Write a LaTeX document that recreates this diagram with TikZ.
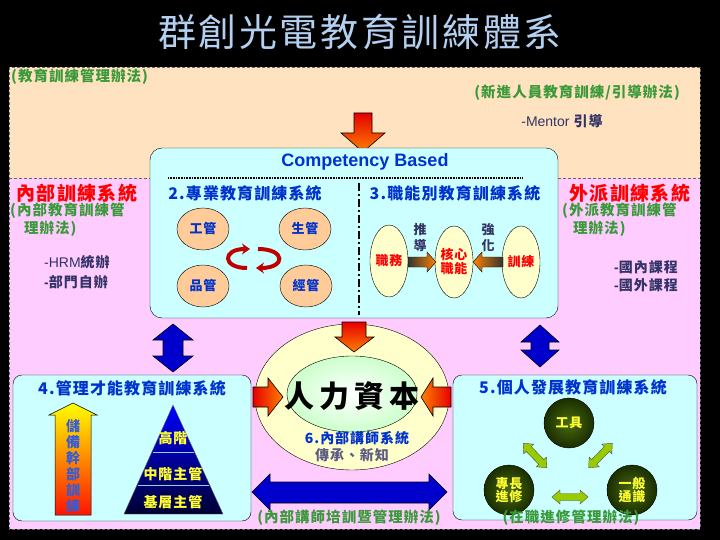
\documentclass[tikz,border=0pt]{standalone}
\usepackage{fontspec}
\setmainfont{Noto Sans CJK TC}[LetterSpace=7]
\newfontfamily\arial{Liberation Sans}
\usetikzlibrary{arrows.meta,shapes.geometric}
\definecolor{peach}{HTML}{FFE2C0}
\definecolor{pinkbg}{HTML}{FFCCFF}
\definecolor{cyanbg}{HTML}{CCFFFF}
\definecolor{grn}{HTML}{3A9A3A}
\definecolor{hblue}{HTML}{0033CC}
\definecolor{navy}{HTML}{333366}
\definecolor{titleblue}{HTML}{B4D0F0}
\definecolor{ballfill}{HTML}{FFCC99}
\definecolor{lyellow}{HTML}{FFFFCC}
\definecolor{lgreen}{HTML}{CCFFCC}
\definecolor{arrblue}{HTML}{0000CC}
\definecolor{ygreen}{HTML}{99CC00}
\definecolor{dkgreen}{HTML}{1A2E00}
\definecolor{midgreen}{HTML}{4A6A10}
\definecolor{yel}{HTML}{FFFF33}
\newcommand\fsz[1]{\fontsize{#1}{#1}\selectfont}
\tikzset{
  txt/.style={inner sep=0pt, anchor=center},
  ball/.style={ellipse, draw=black, fill=ballfill, minimum width=52pt, minimum height=42pt, inner sep=0pt, font=\fsz{13}\bfseries, text=hblue},
  egg/.style={ellipse, draw=black, fill=lyellow, minimum width=36pt, minimum height=72pt, inner sep=0pt, font=\fsz{13}\bfseries, text=red, align=center},
  gball/.style={circle, draw=black, inner color=midgreen, outer color=dkgreen, minimum size=50pt, inner sep=0pt, font=\fsz{13}\bfseries, text=yel, align=center},
  panel/.style={draw=black, fill=cyanbg, rounded corners=9pt},
  blockarr/.style={draw=black, line width=0.6pt},
  ygarr/.style={draw=black!70, fill=ygreen, line width=0.4pt},
  cyc/.style={-{Stealth[length=8pt,width=11pt]}, line width=4pt, red!75!black},
}
\begin{document}
\begin{tikzpicture}[x=1pt,y=-1pt]
\useasboundingbox (0,0) rectangle (720,540);
\fill[black] (0,0) rectangle (720,540);
% title
\node[txt, font=\fsz{38}, text=titleblue] (title) at (360,32) {群創光電教育訓練體系};
% backgrounds
\fill[peach] (9,67) rectangle (700,178);
\fill[pinkbg] (9,178) rectangle (700,529);
\draw[densely dashed, black!60, line width=0.5pt] (9,67) rectangle (700,529);
\draw[densely dashed, black!60, line width=0.5pt] (9,178) -- (150,178) (558,178) -- (700,178);
% top texts
\node[txt, anchor=west, font=\fsz{14.5}\bfseries, text=grn] (t1) at (11,77) {(教育訓練管理辦法)};
\node[txt, anchor=east, font=\fsz{14.5}\bfseries, text=grn] (t2) at (680,93) {(新進人員教育訓練/引導辦法)};
\node[txt, font=\fsz{14}, text=navy] (mentor) at (562,121) {{\arial -Mentor} \bfseries 引導};
% top orange arrow
\shade[top color=red!90!black, bottom color=orange, blockarr]
  (354,113) -- (372,113) -- (372,133) -- (385,133) -- (363,152) -- (341,133) -- (354,133) -- cycle;
% competency panel
\draw[panel, rounded corners=12pt] (150,148) rectangle (558,318);
\node[txt, font=\arial\fsz{18}\bfseries, text=hblue] (comp) at (365,162) {Competency Based};
\draw[black, line width=2pt, dash pattern=on 0.8pt off 0.8pt] (168,178) -- (523,178);
\draw[black, line width=2pt, dash pattern=on 8pt off 3pt on 2pt off 3pt] (359,183) -- (359,315);
\node[txt, font=\fsz{16}\bfseries, text=hblue] (h2) at (245,193) {2.專業教育訓練系統};
\node[txt, font=\fsz{16}\bfseries, text=hblue] (h3) at (455,193) {3.職能別教育訓練系統};
% four balls
\node[ball] (gg) at (203,229) {工管};
\node[ball] (sg) at (305,229) {生管};
\node[ball] (pg) at (203,286) {品管};
\node[ball] (jg) at (306,286) {經管};
% red cycle arrows
\draw[cyc] (247,268) .. controls (222,268) and (222,249) .. (250,249);
\draw[cyc] (258,249) .. controls (286,249) and (286,268) .. (256,268);
% three eggs
\node[egg] (zw) at (389,261) {職務};
\node[egg] (hx) at (454,262) {核心\\[1pt]職能};
\node[egg] (xl) at (521,262) {訓練};
\shade[left color=black!80, right color=orange, blockarr, line width=0.4pt]
  (408,257) -- (427,257) -- (427,252) -- (436,262) -- (427,272) -- (427,267) -- (408,267) -- cycle;
\shade[left color=orange, right color=black!80, blockarr, line width=0.4pt]
  (503,257) -- (482,257) -- (482,252) -- (473,262) -- (482,272) -- (482,267) -- (503,267) -- cycle;
\node[txt, font=\fsz{13}\bfseries, text=navy, align=center] (td) at (420,238) {推\\[3pt]導};
\node[txt, font=\fsz{13}\bfseries, text=navy, align=center] (qh) at (488,238) {強\\[3pt]化};
% left pink texts
\node[txt, font=\fsz{19}\bfseries, text=red] (nb) at (77,193) {內部訓練系統};
\node[txt, anchor=west, font=\fsz{14.5}\bfseries, text=grn] (nb1) at (10,211) {(內部教育訓練管};
\node[txt, anchor=west, font=\fsz{14.5}\bfseries, text=grn] (nb2) at (24,229) {理辦法)};
\node[txt, anchor=west, font=\fsz{14}, text=navy] (hrm) at (44,262) {{\arial -HRM}\bfseries 統辦};
\node[txt, anchor=west, font=\fsz{14}\bfseries, text=navy] (bm) at (44,282) {{\arial -}部門自辦};
% right pink texts
\node[txt, font=\fsz{19}\bfseries, text=red] (wp) at (630,193) {外派訓練系統};
\node[txt, anchor=west, font=\fsz{14.5}\bfseries, text=grn] (wp1) at (562,211) {(外派教育訓練管};
\node[txt, anchor=west, font=\fsz{14.5}\bfseries, text=grn] (wp2) at (573,229) {理辦法)};
\node[txt, anchor=west, font=\fsz{14}\bfseries, text=navy] (gn) at (614,267) {{\arial -}國內課程};
\node[txt, anchor=west, font=\fsz{14}\bfseries, text=navy] (gw) at (614,285) {{\arial -}國外課程};
% vertical blue double arrows
\fill[arrblue, blockarr] (173,324) -- (193,340) -- (183,340) -- (183,356) -- (193,356) -- (173,372) -- (153,356) -- (163,356) -- (163,340) -- (153,340) -- cycle;
\fill[arrblue, blockarr] (540,325) -- (559,342) -- (549,342) -- (549,350) -- (559,350) -- (540,367) -- (521,350) -- (531,350) -- (531,342) -- (521,342) -- cycle;
% panel 4
\draw[panel] (13,375) rectangle (251,521);
\node[txt, font=\fsz{16}\bfseries, text=hblue] (h4) at (132,388) {4.管理才能教育訓練系統};
\shade[top color=yellow, bottom color=red!85!orange, draw=black, line width=0.5pt]
  (73,403) -- (97,415) -- (91,415) -- (91,515) -- (55,515) -- (55,415) -- (49,415) -- cycle;
\node[txt, font=\fsz{14}\bfseries, text=hblue!80, align=center] (cb) at (73,466) {儲\\[2pt]備\\[2pt]幹\\[2pt]部\\[2pt]訓\\[2pt]練};
\shade[top color=blue, bottom color=black!80!blue, draw=black!60, line width=0.4pt]
  (173,405) -- (223,514) -- (124,514) -- cycle;
\draw[cyan!50, line width=1pt] (152.5,452) -- (193.5,452) (137.5,485) -- (208.5,485);
\node[txt, font=\fsz{14}\bfseries, text=yel] (gj) at (173,438) {高階};
\node[txt, font=\fsz{14}\bfseries, text=yel] (zj) at (173,474) {中階主管};
\node[txt, font=\fsz{14}\bfseries, text=yel] (jc) at (173,502) {基層主管};
% central ellipses
\node[ellipse, draw=black, line width=0.4pt, fill=lyellow, minimum width=194pt, minimum height=146pt] (outer) at (352,397) {};
\node[ellipse, draw=black, line width=0.4pt, inner color=white, outer color=lgreen, minimum width=130pt, minimum height=76pt] (inner) at (352,394) {};
\node[txt, font=\fsz{30}\bfseries, text=black] (rlzb) at (352,396) {人\,力\,資\,本};
\node[txt, font=\fsz{14}\bfseries, text=hblue] (h6) at (357,438.5) {6.內部講師系統};
\node[txt, font=\fsz{14}\bfseries, text=navy!80] (cc) at (352,455) {傳承、新知};
% orange arrows into centre
\shade[top color=red!90!black, bottom color=orange, blockarr]
  (342,322) -- (366,322) -- (366,337) -- (374,337) -- (354,352) -- (335,337) -- (342,337) -- cycle;
\shade[left color=red!90!black, right color=orange, blockarr]
  (253,387) -- (268,387) -- (268,378) -- (283,397) -- (268,416) -- (268,407) -- (253,407) -- cycle;
\shade[left color=orange, right color=red!90!black, blockarr]
  (451,387) -- (433,387) -- (433,378) -- (421,397) -- (433,416) -- (433,407) -- (451,407) -- cycle;
% big blue horizontal double arrow
\fill[arrblue, blockarr] (252,492) -- (270,474) -- (270,482) -- (429,482) -- (429,474) -- (447,492) -- (429,510) -- (429,503) -- (270,503) -- (270,510) -- cycle;
\node[txt, font=\fsz{14.5}\bfseries, text=grn] (nj) at (349,518) {(內部講師培訓暨管理辦法)};
% panel 5
\draw[panel] (453,375) rectangle (697,520);
\node[txt, font=\fsz{16}\bfseries, text=hblue] (h5) at (573,387) {5.個人發展教育訓練系統};
\node[gball] (gjt) at (569,423) {工具};
\node[gball] (zc) at (509,490) {專長\\進修};
\node[gball] (yb) at (632,490) {一般\\通識};
% yellow-green double arrows
\begin{scope}[shift={(535,455.5)}, rotate=-46]
\fill[ygarr] (-17,0) -- (-9,-7) -- (-9,-3.5) -- (9,-3.5) -- (9,-7) -- (17,0) -- (9,7) -- (9,3.5) -- (-9,3.5) -- (-9,7) -- cycle;
\end{scope}
\begin{scope}[shift={(600.5,455.5)}, rotate=46]
\fill[ygarr] (-17,0) -- (-9,-7) -- (-9,-3.5) -- (9,-3.5) -- (9,-7) -- (17,0) -- (9,7) -- (9,3.5) -- (-9,3.5) -- (-9,7) -- cycle;
\end{scope}
\begin{scope}[shift={(570,497)}]
\fill[ygarr] (-18,0) -- (-10,-7) -- (-10,-3.5) -- (10,-3.5) -- (10,-7) -- (18,0) -- (10,7) -- (10,3.5) -- (-10,3.5) -- (-10,7) -- cycle;
\end{scope}
\node[txt, font=\fsz{14.5}\bfseries, text=grn] (zz) at (571,518) {(在職進修管理辦法)};
\end{tikzpicture}
\end{document}
